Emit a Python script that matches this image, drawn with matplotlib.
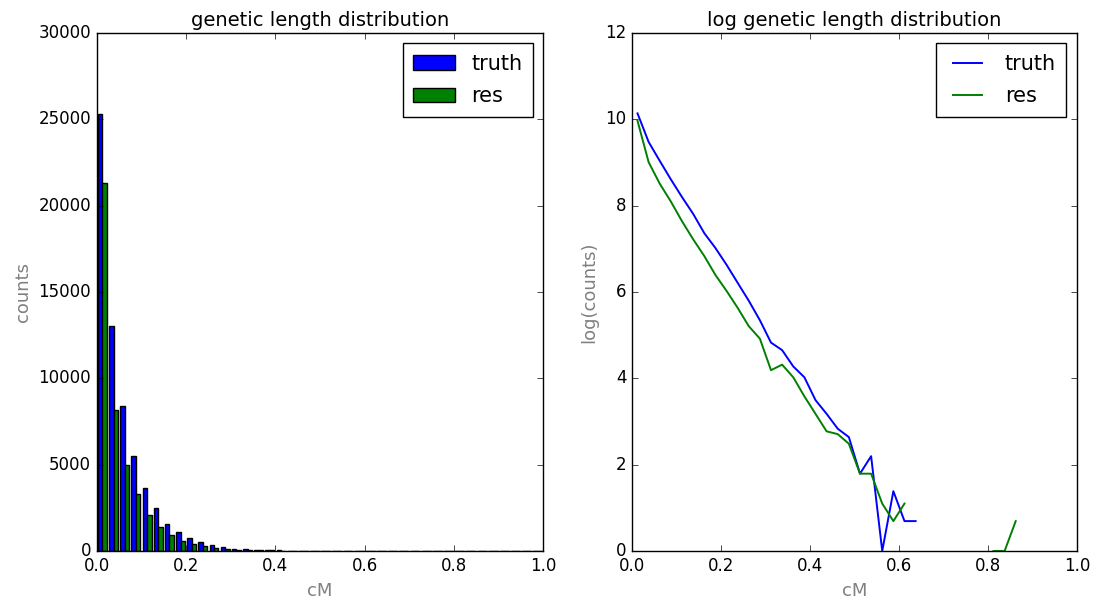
import numpy as np
import matplotlib
matplotlib.use("Agg")
import matplotlib.pyplot as plt

plt.style.use("classic")

# 40 bins of width 0.025 over [0, 1]
bin_edges = np.linspace(0.0, 1.0, 41)
bin_centers = 0.5 * (bin_edges[:-1] + bin_edges[1:])

truth_counts = [25300, 13050, 8420, 5480, 3640, 2470, 1580, 1120, 760, 500,
                330, 210, 125, 105, 72, 56, 33, 24, 17, 14,
                6, 9, 1, 4, 2, 2, 0, 0, 0, 0,
                0, 0, 0, 0, 0, 0, 0, 0, 0, 0]
res_counts = [21300, 8170, 4960, 3280, 2080, 1370, 930, 600, 415, 280,
              183, 137, 66, 75, 56, 36, 24, 16, 15, 12,
              6, 6, 3, 2, 3, 0, 0, 0, 0, 0,
              0, 0, 1, 1, 2, 0, 0, 0, 0, 0]
series_labels = ["truth", "res"]
series_colors = ["b", "g"]

truth_arr = np.array(truth_counts, dtype=float)
res_arr = np.array(res_counts, dtype=float)
log_truth = np.where(truth_arr > 0, np.log(np.where(truth_arr > 0, truth_arr, 1)), np.nan)
log_res = np.where(res_arr > 0, np.log(np.where(res_arr > 0, res_arr, 1)), np.nan)

fig = plt.figure(figsize=(11, 6.03), dpi=100)
fig.patch.set_facecolor("white")
ax1 = fig.add_axes([0.088, 0.0862, 0.406, 0.859])
ax2 = fig.add_axes([0.5745, 0.0862, 0.4045, 0.859])

ax1.hist([bin_centers, bin_centers], bins=bin_edges,
         weights=[truth_arr, res_arr], color=series_colors, label=series_labels)
ax1.set_xlim(0, 1.0)
ax1.set_ylim(0, 30000)
ax1.set_title("genetic length distribution", fontsize=14)
ax1.set_xlabel("cM", color="gray", fontsize=13)
ax1.set_ylabel("counts", color="gray", fontsize=13)
ax1.legend(loc="upper right", fontsize=15, labelspacing=0.6, borderpad=0.5)

ax2.plot(bin_centers, log_truth, color="b", lw=1.4, label="truth")
ax2.plot(bin_centers, log_res, color="g", lw=1.4, label="res")
ax2.set_xlim(0, 1.0)
ax2.set_ylim(0, 12)
ax2.set_title("log genetic length distribution", fontsize=14)
ax2.set_xlabel("cM", color="gray", fontsize=13)
ax2.set_ylabel("log(counts)", color="gray", fontsize=13)
ax2.legend(loc="upper right", fontsize=15, labelspacing=0.6, borderpad=0.5)

for ax in (ax1, ax2):
    ax.tick_params(labelsize=12)
    ax.set_facecolor("white")

fig.savefig("out.png", dpi=100, facecolor="white")
